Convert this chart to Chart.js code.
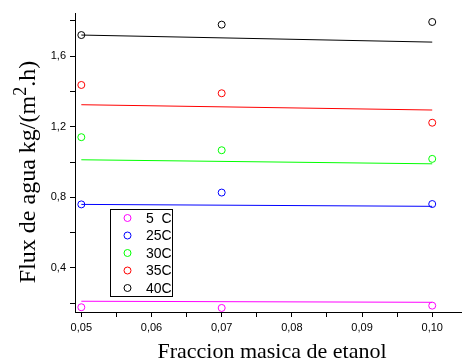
<!DOCTYPE html>
<html>
<head>
<meta charset="utf-8">
<style>
  body { margin: 0; background: #fff; }
  canvas { display: block; }
</style>
</head>
<body>
<canvas id="fluxChart" width="466" height="363"></canvas>

<script src="https://cdn.jsdelivr.net/npm/chart.js"></script>
<script>
    // Données
    var fracciones = [0.05, 0.07, 0.10];
    var series = ["5  C", "25C", "30C", "35C", "40C"];
    var colores = ["#ff00ff", "#0000ff", "#00ff00", "#ff0000", "#000000"];

    var flux5 = [0.177, 0.173, 0.186];
    var flux25 = [0.760, 0.827, 0.762];
    var flux30 = [1.141, 1.067, 1.018];
    var flux35 = [1.437, 1.390, 1.223];
    var flux40 = [1.720, 1.779, 1.794];

    // Droites d'ajustement : valeurs aux extrémités 0,05 et 0,10
    var ajusteX = [0.05, 0.10];
    var ajuste5 = [0.211, 0.205];
    var ajuste25 = [0.760, 0.749];
    var ajuste30 = [1.013, 0.990];
    var ajuste35 = [1.325, 1.295];
    var ajuste40 = [1.720, 1.680];

    // Graduations
    var xTicks = [0.05, 0.055, 0.06, 0.065, 0.07, 0.075, 0.08, 0.085, 0.09, 0.095, 0.10];
    var xLabels = ["0,05", "", "0,06", "", "0,07", "", "0,08", "", "0,09", "", "0,10"];
    var yTicks = [0.2, 0.4, 0.6, 0.8, 1.0, 1.2, 1.4, 1.6, 1.8];
    var yLabels = ["", "0,4", "", "0,8", "", "1,2", "", "1,6", ""];

    var puntos = [flux5, flux25, flux30, flux35, flux40];
    var rectas = [ajuste5, ajuste25, ajuste30, ajuste35, ajuste40];

    var datasets = [];
    for (var i = 0; i < series.length; i++) {
        datasets.push({
            type: 'line',
            label: series[i] + ' ajuste',
            data: ajusteX.map(function (x, k) { return {x: x, y: rectas[i][k]}; }),
            borderColor: colores[i],
            borderWidth: 1,
            pointRadius: 0,
            fill: false
        });
    }
    for (var j = 0; j < series.length; j++) {
        datasets.push({
            type: 'scatter',
            label: series[j],
            data: fracciones.map(function (x, k) { return {x: x, y: puntos[j][k]}; }),
            borderColor: colores[j],
            backgroundColor: 'rgba(0,0,0,0)',
            pointRadius: 3.5,
            pointBorderWidth: 1,
            showLine: false
        });
    }

    // Titres des axes et légende encadrée
    var decor = {
        id: 'decor',
        afterDraw: function (chart) {
            var c = chart.ctx;
            c.save();
            c.fillStyle = '#000';

            // titre X
            c.font = '22px "Liberation Serif"';
            c.textAlign = 'center';
            c.textBaseline = 'alphabetic';
            c.fillText('Fraccion masica de etanol', 272, 358);

            // titre Y avec exposant
            c.translate(35, 172);
            c.rotate(-Math.PI / 2);
            var p1 = 'Flux de agua kg/(m', p2 = '2', p3 = '.h)';
            c.font = '24px "Liberation Serif"';
            var w1 = c.measureText(p1).width, w3 = c.measureText(p3).width;
            c.font = '18px "Liberation Serif"';
            var w2 = c.measureText(p2).width;
            var x0 = -(w1 + w2 + w3) / 2;
            c.textAlign = 'left';
            c.font = '24px "Liberation Serif"';
            c.fillText(p1, x0, 0);
            c.font = '18px "Liberation Serif"';
            c.fillText(p2, x0 + w1, -9);
            c.font = '24px "Liberation Serif"';
            c.fillText(p3, x0 + w1 + w2, 0);
            c.restore();

            // légende
            c.save();
            c.strokeStyle = '#000';
            c.lineWidth = 1;
            c.strokeRect(110.5, 209.5, 62, 87);
            c.font = '14px "Liberation Sans"';
            c.textBaseline = 'middle';
            c.textAlign = 'left';
            var ys = [218, 235.5, 253, 270.5, 288];
            for (var k = 0; k < series.length; k++) {
                c.beginPath();
                c.arc(127.5, ys[k], 3.5, 0, Math.PI * 2);
                c.strokeStyle = colores[k];
                c.stroke();
                c.fillStyle = '#000';
                c.fillText(series[k], 146, ys[k] + 1);
            }
            c.restore();
        }
    };

    var ctx = document.getElementById('fluxChart').getContext('2d');
    var fluxChart = new Chart(ctx, {
        data: {datasets: datasets},
        options: {
            responsive: false,
            animation: false,
            layout: {padding: {top: 13, right: 3, left: 0, bottom: 0}},
            plugins: {legend: {display: false}, tooltip: {enabled: false}},
            scales: {
                x: {
                    type: 'linear',
                    min: 0.0491,
                    max: 0.1041,
                    afterBuildTicks: function (s) { s.ticks = xTicks.map(function (v) { return {value: v}; }); },
                    afterFit: function (s) { s.height = 51; },
                    ticks: {
                        autoSkip: false,
                        maxRotation: 0,
                        padding: 4,
                        color: '#000',
                        font: {family: 'Liberation Sans', size: 11},
                        callback: function (v, idx) { return xLabels[idx]; }
                    },
                    grid: {drawOnChartArea: false, tickLength: 5, color: '#000'},
                    border: {color: '#000', width: 1}
                },
                y: {
                    type: 'linear',
                    min: 0.15,
                    max: 1.845,
                    afterBuildTicks: function (s) { s.ticks = yTicks.map(function (v) { return {value: v}; }); },
                    afterFit: function (s) { s.width = 75; },
                    ticks: {
                        autoSkip: false,
                        padding: 4,
                        color: '#000',
                        font: {family: 'Liberation Sans', size: 11},
                        callback: function (v, idx) { return yLabels[idx]; }
                    },
                    grid: {drawOnChartArea: false, tickLength: 5, color: '#000'},
                    border: {color: '#000', width: 1}
                }
            }
        },
        plugins: [decor]
    });
</script>
</body>
</html>
